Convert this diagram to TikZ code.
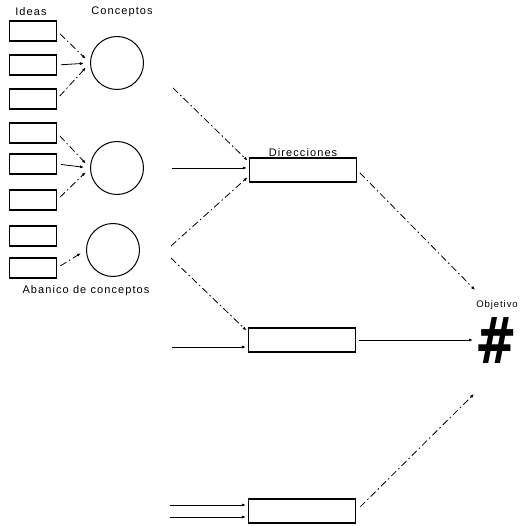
\documentclass[tikz,border=0pt]{standalone}
\usepackage{fontspec}
\usetikzlibrary{arrows.meta,positioning}
\newfontfamily\lblfont[LetterSpace=10]{Liberation Sans}
\newfontfamily\hashfont{DejaVu Sans}

\begin{document}
\begin{tikzpicture}[x=1pt, y=-1pt, every node/.style={font=\lblfont\fontsize{11}{13}\selectfont},
  idea/.style={draw, line width=1.1pt, minimum width=47pt, minimum height=20pt, inner sep=0pt},
  concept/.style={draw, circle, line width=1pt, minimum size=53pt, inner sep=0pt},
  dirbox/.style={draw, line width=1.1pt, minimum width=107pt, minimum height=24pt, inner sep=0pt},
  flow/.style={-{Latex[length=4pt,width=3pt]}, line width=0.8pt},
  dflow/.style={flow, dash pattern=on 7pt off 3pt on 1.5pt off 3pt}]
  \useasboundingbox (0,0) rectangle (523,526);

  \node (ideas) at (31,12) {Ideas};
  \node (conc) at (122,12) {Conceptos};
  \foreach \i/\y in {1/31, 2/65, 3/99, 4/133, 5/164, 6/200, 7/236, 8/268}
    \node[idea] (i\i) at (33,\y) {};

  \node[concept] (c1) at (117,63) {};
  \node[concept] (c2) at (117,168) {};
  \node[concept] (c3) at (113,250) {};
  \node (aban) at (86,291) {Abanico de conceptos};

  \node[dirbox] (d1) at (303,170) {};
  \node[above=0pt of d1, inner sep=1pt] (dir) {Direcciones};
  \node[dirbox] (d2) at (302,340) {};
  \node[dirbox] (d3) at (302,511) {};

  \node[font=\lblfont\fontsize{9.5}{10}\selectfont] (objl) at (497,305) {Objetivo};
  \node[font=\hashfont\fontsize{80}{80}\selectfont\bfseries, inner sep=0pt] (obj) at (496,341) {\scalebox{0.62}[0.8]{\#}};

  \draw[dflow, shorten <=4pt, shorten >=6pt] (i1.east) -- (c1.west);
  \draw[flow, shorten <=4pt, shorten >=6pt] (i2.east) -- (c1.west);
  \draw[dflow, shorten <=4pt, shorten >=6pt] (i3.east) -- (c1.west);
  \draw[dflow, shorten <=4pt, shorten >=6pt] (i4.east) -- (c2.west);
  \draw[flow, shorten <=4pt, shorten >=6pt] (i5.east) -- (c2.west);
  \draw[dflow, shorten <=4pt, shorten >=6pt] (i6.east) -- (c2.west);
  \draw[dflow, shorten <=4pt, shorten >=6pt] (i8.east) -- (c3.west);

  \coordinate (p1) at (173,88);
  \coordinate (p2) at (172,168);
  \coordinate (p3) at (171,246);
  \coordinate (p4) at (171,258);
  \coordinate (p5) at (172,347);
  \coordinate (p6) at (170,505);
  \coordinate (p7) at (170,517);
  \coordinate (t1) at (475,290);
  \coordinate (t3) at (474,394);

  \draw[dflow, shorten >=2pt] (p1) -- ([yshift=8pt]d1.west);
  \draw[flow, shorten >=2pt] (p2) -- (p2 -| d1.west);
  \draw[dflow, shorten >=2pt] (p3) -- ([yshift=-6pt]d1.west);
  \draw[dflow, shorten >=2pt] (p4) -- ([yshift=8pt]d2.west);
  \draw[flow, shorten >=2pt] (p5) -- (p5 -| d2.west);
  \foreach \p in {p6, p7}
    \draw[flow, shorten >=2pt] (\p) -- (\p -| d3.west);

  \draw[dflow, shorten <=4pt] (d1.east) -- (t1);
  \draw[flow, shorten <=3pt, shorten >=2pt] (d2.east) -- (d2.east -| obj.west);
  \draw[dflow, shorten <=6pt] (d3.east) -- (t3);
\end{tikzpicture}
\end{document}
